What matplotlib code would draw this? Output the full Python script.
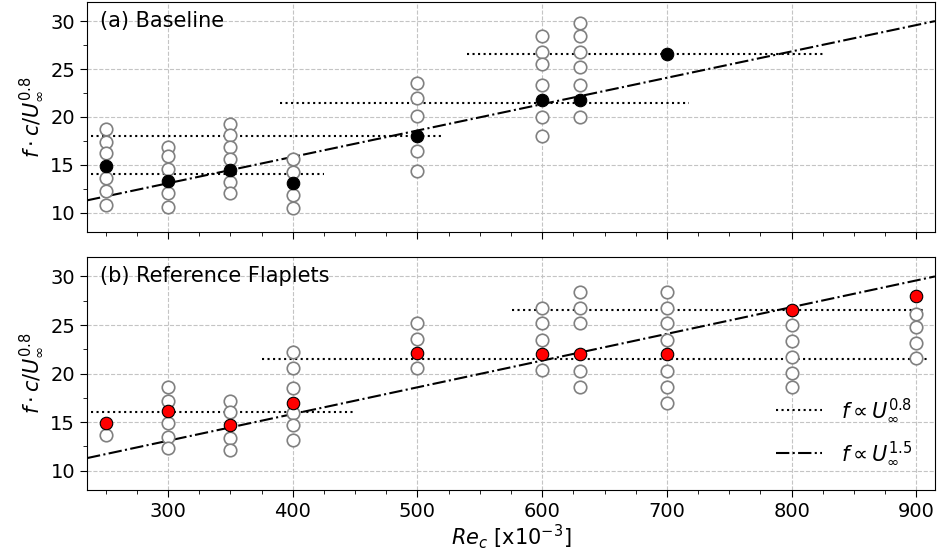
import numpy as np
import matplotlib
matplotlib.use('Agg')
import matplotlib.pyplot as plt
from matplotlib.ticker import MultipleLocator

# (a) Baseline: all measured peaks (open) and dominant peak (filled)
re_a = [250, 300, 350, 400, 500, 600, 630, 700]
peaks_a = [
    [18.7, 17.4, 16.2, 13.6, 12.3, 10.8],
    [16.9, 15.9, 14.6, 12.1, 10.6],
    [19.3, 18.1, 16.9, 15.6, 13.2, 12.1],
    [15.6, 14.3, 11.9, 10.5],
    [23.5, 22.0, 20.1, 16.5, 14.4],
    [28.4, 26.8, 25.5, 23.3, 20.0, 18.0],
    [29.8, 28.4, 26.8, 25.2, 23.3, 20.0],
    [],
]
main_a = [14.9, 13.3, 14.5, 13.1, 18.0, 21.8, 21.8, 26.6]

# (b) Reference Flaplets
re_b = [250, 300, 350, 400, 500, 600, 630, 700, 800, 900]
peaks_b = [
    [13.7],
    [18.6, 17.2, 14.9, 13.5, 12.3],
    [17.2, 16.0, 13.4, 12.1],
    [22.2, 20.6, 18.5, 15.9, 14.7, 13.2],
    [25.2, 23.6, 20.6],
    [26.8, 25.2, 23.5, 20.4],
    [28.4, 26.8, 25.2, 20.3, 18.6],
    [28.4, 26.8, 25.2, 23.5, 20.3, 18.6, 17.0],
    [25.0, 23.4, 21.7, 20.1, 18.6],
    [26.1, 24.8, 23.1, 21.6],
]
main_b = [14.9, 16.1, 14.7, 17.0, 22.1, 22.0, 22.0, 22.0, 26.5, 28.0]

# horizontal f ~ U^0.8 segments: (level, x start, x end)
flat_a = [(18.0, 238, 521), (14.0, 238, 425), (21.5, 390, 718), (26.6, 540, 825)]
flat_b = [(16.0, 238, 448), (21.5, 375, 910), (26.5, 576, 907)]

# f ~ U^1.5 reference line
slope_x = [235, 915]
slope_y = [11.3, 30.0]

fs = 14

fig = plt.figure(figsize=(9.39, 5.57), dpi=100)
ax1 = fig.add_axes([0.0927, 0.5835, 0.903, 0.413])
ax2 = fig.add_axes([0.0927, 0.12, 0.903, 0.4186], sharex=ax1)


def draw(ax, re, peaks, main, flats, mcolor, label):
    ax.grid(True, which='major', linestyle='--', color='#c4c4c4', linewidth=0.8)
    for lev, x0, x1 in flats:
        ax.plot([x0, x1], [lev, lev], ':', color='k', linewidth=1.5, zorder=2)
    ax.plot(slope_x, slope_y, '-.', color='k', linewidth=1.5, zorder=2)
    for x, ps in zip(re, peaks):
        ax.plot([x] * len(ps), ps, 'o', mfc='white', mec='#808080', ms=9,
                mew=1.2, linestyle='none', zorder=3)
    ax.plot(re, main, 'o', mfc=mcolor, mec='k', ms=9, mew=0.8,
            linestyle='none', zorder=4)
    ax.set_ylim(8, 32)
    ax.set_xlim(235, 915)
    ax.yaxis.set_major_locator(MultipleLocator(5))
    ax.yaxis.set_minor_locator(MultipleLocator(2.5))
    ax.xaxis.set_major_locator(MultipleLocator(100))
    ax.xaxis.set_minor_locator(MultipleLocator(25))
    ax.tick_params(which='major', length=5, labelsize=fs)
    ax.tick_params(which='minor', length=3)
    ax.set_ylabel(r'$f \cdot c / U_\infty^{0.8}$', fontsize=15, labelpad=4)
    ax.text(0.015, 0.96, label, transform=ax.transAxes, fontsize=15,
            va='top', ha='left')
    ax.set_axisbelow(True)


draw(ax1, re_a, peaks_a, main_a, flat_a, 'black', '(a) Baseline')
draw(ax2, re_b, peaks_b, main_b, flat_b, 'red', '(b) Reference Flaplets')
plt.setp(ax1.get_xticklabels(), visible=False)

l1, = ax2.plot([], [], ':', color='k', linewidth=1.5, label=r'$f \propto U_\infty^{0.8}$')
l2, = ax2.plot([], [], '-.', color='k', linewidth=1.5, label=r'$f \propto U_\infty^{1.5}$')
ax2.legend(handles=[l1, l2], loc='lower right', bbox_to_anchor=(0.995, 0.02),
           frameon=False, fontsize=15, handlelength=2.2, labelspacing=0.75,
           handletextpad=0.9)
ax2.set_xlabel(r'$Re_c$ [x10$^{-3}$]', fontsize=15, labelpad=1)

fig.savefig('out.png', dpi=100)
